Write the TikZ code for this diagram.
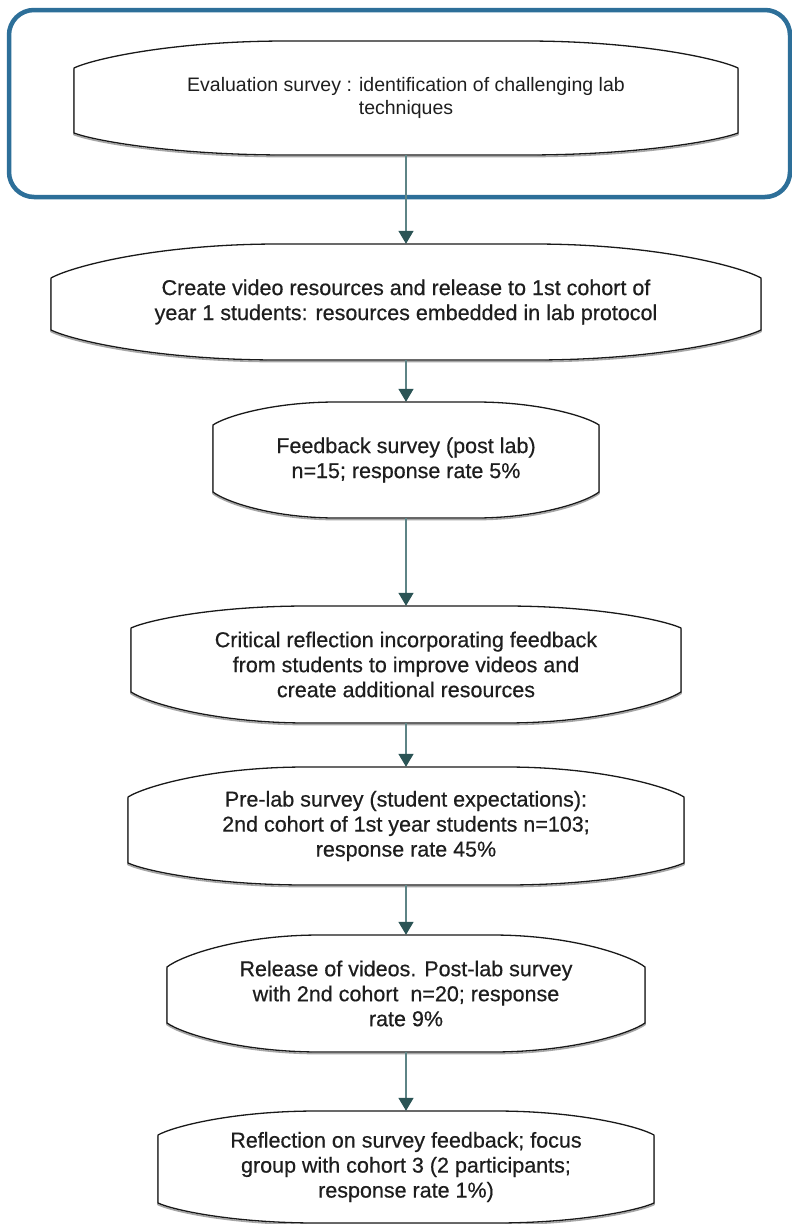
\documentclass[tikz,border=0pt]{standalone}
\usepackage{fontspec}
\setmainfont{Liberation Sans}
\newfontfamily\boxfont[FakeBold=0.5]{Liberation Sans}
\usetikzlibrary{arrows.meta}
\definecolor{framec}{HTML}{2D6F99}
\definecolor{arrline}{HTML}{5E8486}
\definecolor{arrhead}{HTML}{2B5455}
\definecolor{txtc}{HTML}{1E1E1E}
\tikzset{
  stepnode/.style={draw=none, inner sep=0pt, align=center, text=txtc,
    font=\boxfont\fontsize{21.5}{25}\selectfont},
  smallnode/.style={draw=none, inner sep=0pt, align=center, text=txtc,
    font=\fontsize{19.5}{23}\selectfont},
  blobline/.style={draw=black!90, line width=1.3pt, line join=round},
  blobshadow/.style={draw=black!35, line width=1.6pt, line join=round},
  arr/.style={draw=arrline, line width=1.5pt,
    -{Triangle[width=15pt,length=13pt,color=arrhead,fill=arrhead]}},
  frame/.style={draw=framec, line width=4.5pt, rounded corners=25pt}
}
% cx, hw, T, sT, sB, B  (y grows downward)
\newcommand{\blobcalc}[6]{%
  \pgfmathsetmacro\bL{#1-#2}\pgfmathsetmacro\bR{#1+#2}%
  \pgfmathsetmacro\bLa{#1-#2+0.06*#2}\pgfmathsetmacro\bLb{#1-#2+0.30*#2}\pgfmathsetmacro\bLc{#1-#2+0.64*#2}%
  \pgfmathsetmacro\bRa{#1+#2-0.06*#2}\pgfmathsetmacro\bRb{#1+#2-0.30*#2}\pgfmathsetmacro\bRc{#1+#2-0.64*#2}%
  \pgfmathsetmacro\bTc{#4-0.35*(#4-#3)}\pgfmathsetmacro\bBc{#5+0.35*(#6-#5)}%
  \def\bT{#3}\def\bsT{#4}\def\bsB{#5}\def\bB{#6}%
}
\newcommand{\blobpath}{%
  (\bL,\bsT) -- (\bL,\bsB)
  .. controls (\bLa,\bBc) and (\bLb,\bB) .. (\bLc,\bB)
  -- (\bRc,\bB)
  .. controls (\bRb,\bB) and (\bRa,\bBc) .. (\bR,\bsB)
  -- (\bR,\bsT)
  .. controls (\bRa,\bTc) and (\bRb,\bT) .. (\bRc,\bT)
  -- (\bLc,\bT)
  .. controls (\bLb,\bT) and (\bLa,\bTc) .. (\bL,\bsT) -- cycle
}
\newcommand{\blob}[6]{%
  \blobcalc{#1}{#2}{#3}{#4}{#5}{#6}%
  \draw[blobshadow, yshift=-1.6pt] \blobpath;
  \draw[blobline, fill=white] \blobpath;
}
\begin{document}
\begin{tikzpicture}[x=1pt, y=-1pt]
\useasboundingbox (0,0) rectangle (792,1224);
\fill[white] (0,0) rectangle (792,1224);

% outer frame
\draw[frame] (9,10) rectangle (790,197);

% shapes
\blob{406}{332}{41}{68}{133}{155}
\blob{406}{355}{244}{278}{330}{360}
\blob{406}{193}{402}{425}{492}{518}
\blob{406}{275}{606}{628}{692}{723}
\blob{406}{278}{767}{797}{863}{885}
\blob{406}{239}{935}{967}{1023}{1052}
\blob{406}{248}{1111}{1135}{1203}{1223}

% text nodes
\node[smallnode, minimum width=664pt, minimum height=114pt] (n1) at (406,98)
  {Evaluation survey : identification of challenging lab\\techniques};
\node[stepnode, minimum width=710pt, minimum height=116pt] (n2) at (406,302)
  {Create video resources and release to 1st cohort of\\year 1 students: resources embedded in lab protocol};
\node[stepnode, minimum width=386pt, minimum height=116pt] (n3) at (406,460)
  {Feedback survey (post lab)\\n=15; response rate 5\%};
\node[stepnode, minimum width=550pt, minimum height=117pt] (n4) at (406,664.5)
  {Critical reflection incorporating feedback\\from students to improve videos and\\create additional resources};
\node[stepnode, minimum width=556pt, minimum height=118pt] (n5) at (406,826)
  {Pre-lab survey (student expectations):\\2nd cohort of 1st year students n=103;\\response rate 45\%};
\node[stepnode, minimum width=478pt, minimum height=117pt] (n6) at (406,993.5)
  {Release of videos. Post-lab survey\\with 2nd cohort\ \ n=20; response\\rate 9\%};
\node[stepnode, minimum width=496pt, minimum height=112pt] (n7) at (406,1167)
  {Reflection on survey feedback; focus\\group with cohort 3 (2 participants;\\response rate 1\%)};

% connectors
\draw[arr] (n1.south) -- (n2.north);
\draw[arr] (n2.south) -- (n3.north);
\draw[arr] (n3.south) -- (n4.north);
\draw[arr] (n4.south) -- (n5.north);
\draw[arr] (n5.south) -- (n6.north);
\draw[arr] (n6.south) -- (n7.north);
\end{tikzpicture}
\end{document}
